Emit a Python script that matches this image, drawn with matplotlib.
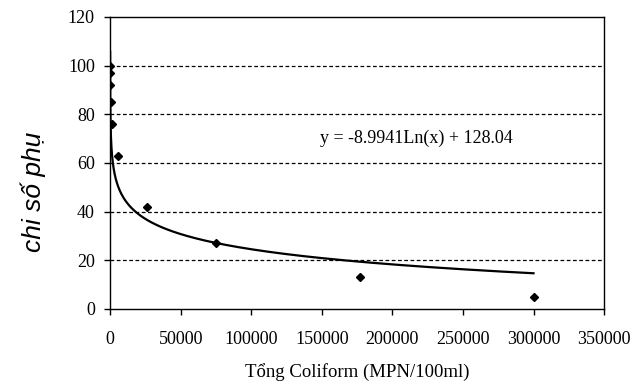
import numpy as np
import matplotlib
matplotlib.use("Agg")
import matplotlib.pyplot as plt

# measured points
coliform = [30, 60, 150, 400, 1500, 5600, 26000, 75000, 177000, 300000]
chi_so_phu = [100, 97, 92, 85, 76, 63, 42, 27, 13, 5]

# fitted trend  y = -8.9941 ln(x) + 128.04
a, b = -8.9941, 128.04
x_fit = np.geomspace(12, 300000, 400)
y_fit = a * np.log(x_fit) + b

serif = "Liberation Serif"

fig = plt.figure(figsize=(6.44, 3.86), dpi=100)
ax = fig.add_axes([0.171, 0.200, 0.767, 0.756])

ax.plot(x_fit, y_fit, color="black", lw=1.6)
ax.plot(coliform, chi_so_phu, "D", color="black", ms=4)

ax.set_xlim(0, 350000)
ax.set_ylim(0, 120)
ax.set_xticks(np.arange(0, 350001, 50000))
ax.set_yticks(np.arange(0, 121, 20))
for yv in range(20, 120, 20):
    ax.axhline(yv, color="black", ls=(0, (3, 2)), lw=0.9, zorder=0)

for s in ax.spines.values():
    s.set_linewidth(1.0)
ax.tick_params(direction="out", length=4, width=1, labelsize=13)
ax.tick_params(axis="x", pad=12)
ax.tick_params(axis="y", pad=7)
for lab in ax.get_xticklabels() + ax.get_yticklabels():
    lab.set_family(serif)

ax.text(149000, 70, "y = -8.9941Ln(x) + 128.04", family=serif, fontsize=13,
        va="center")
ax.set_xlabel("Tổng Coliform (MPN/100ml)", family=serif, fontsize=13.5, labelpad=11)
ax.set_ylabel("chi số phụ", fontsize=19, style="italic", family="Liberation Sans")
ax.yaxis.set_label_coords(-0.13, 0.40)

fig.savefig("out.png", dpi=100)
